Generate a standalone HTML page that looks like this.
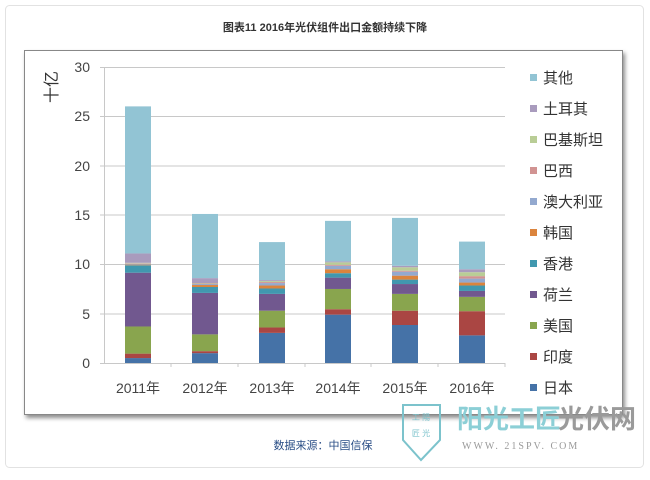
<!DOCTYPE html>
<html><head><meta charset="utf-8"><style>
body{margin:0;width:650px;height:475px;background:#fff;overflow:hidden;font-family:"Liberation Sans","Noto Sans CJK SC",sans-serif}
</style></head><body>
<svg width="650" height="475" xmlns="http://www.w3.org/2000/svg" font-family="Liberation Sans, Noto Sans CJK SC, sans-serif">
<defs><filter id="sh" x="-5%" y="-5%" width="110%" height="115%"><feDropShadow dx="2" dy="3" stdDeviation="2" flood-color="#000" flood-opacity="0.45"/></filter></defs>
<rect x="5.5" y="5.5" width="638" height="462" rx="4" fill="#fff" stroke="#e2e2e2"/>
<text x="325" y="31" text-anchor="middle" font-size="11" font-weight="bold" fill="#333">图表11  2016年光伏组件出口金额持续下降</text>
<rect x="24.5" y="50.5" width="598" height="364" fill="#fff" stroke="#888" filter="url(#sh)"/>
<g stroke="#c8c8c8" stroke-width="1">
<line x1="104" y1="67.5" x2="505" y2="67.5"/><line x1="104" y1="116.5" x2="505" y2="116.5"/>
<line x1="104" y1="166" x2="505" y2="166"/><line x1="104" y1="215" x2="505" y2="215"/>
<line x1="104" y1="264.5" x2="505" y2="264.5"/><line x1="104" y1="314" x2="505" y2="314"/>
<line x1="104.5" y1="67" x2="104.5" y2="363"/><line x1="100" y1="363.5" x2="505" y2="363.5"/>
<line x1="100" y1="67.5" x2="104" y2="67.5"/><line x1="100" y1="116.5" x2="104" y2="116.5"/><line x1="100" y1="166" x2="104" y2="166"/><line x1="100" y1="215" x2="104" y2="215"/><line x1="100" y1="264.5" x2="104" y2="264.5"/><line x1="100" y1="314" x2="104" y2="314"/>
<line x1="171" y1="363" x2="171" y2="367"/><line x1="238" y1="363" x2="238" y2="367"/><line x1="305" y1="363" x2="305" y2="367"/><line x1="371" y1="363" x2="371" y2="367"/><line x1="438" y1="363" x2="438" y2="367"/><line x1="505" y1="363" x2="505" y2="367"/>
</g>
<g font-size="14" fill="#444" text-anchor="end">
<text x="90" y="72">30</text><text x="90" y="121">25</text><text x="90" y="171">20</text><text x="90" y="220">15</text><text x="90" y="269">10</text><text x="90" y="319">5</text><text x="90" y="368">0</text>
</g>
<text transform="translate(57,87) rotate(-90)" text-anchor="middle" font-size="16" fill="#333">十亿</text>
<g font-size="14" fill="#444" text-anchor="middle">
<text x="138" y="393">2011年</text><text x="205" y="393">2012年</text><text x="272" y="393">2013年</text><text x="338" y="393">2014年</text><text x="405" y="393">2015年</text><text x="472" y="393">2016年</text>
</g>
<g id="bars"></g>
<g font-size="15" fill="#333">
<rect x="530" y="74" width="7" height="7" fill="#92c4d4"/><text x="543" y="83">其他</text>
<rect x="530" y="105" width="7" height="7" fill="#a99bbd"/><text x="543" y="114">土耳其</text>
<rect x="530" y="136" width="7" height="7" fill="#b9cd96"/><text x="543" y="145">巴基斯坦</text>
<rect x="530" y="167" width="7" height="7" fill="#d19392"/><text x="543" y="176">巴西</text>
<rect x="530" y="198" width="7" height="7" fill="#93a9cf"/><text x="543" y="207">澳大利亚</text>
<rect x="530" y="229" width="7" height="7" fill="#db843d"/><text x="543" y="238">韩国</text>
<rect x="530" y="260" width="7" height="7" fill="#4198af"/><text x="543" y="269">香港</text>
<rect x="530" y="291" width="7" height="7" fill="#71588f"/><text x="543" y="300">荷兰</text>
<rect x="530" y="322" width="7" height="7" fill="#89a54e"/><text x="543" y="331">美国</text>
<rect x="530" y="353" width="7" height="7" fill="#aa4643"/><text x="543" y="362">印度</text>
<rect x="530" y="384" width="7" height="7" fill="#4572a7"/><text x="543" y="393">日本</text>
</g>
<text x="323" y="449" text-anchor="middle" font-size="11" fill="#2a4e86">数据来源：中国信保</text>
<path d="M403 405 L440 405 L440 440 L421 460 L403 440 Z" fill="none" stroke="#7cc3cc" stroke-width="2"/>
<text x="421" y="420" text-anchor="middle" font-size="8" fill="#7cc3cc">工 陽</text>
<text x="421" y="436" text-anchor="middle" font-size="8" fill="#7cc3cc">匠 光</text>
<text x="457" y="428" font-size="26" font-weight="bold" fill="#8ccfd6">阳光工匠</text>
<text x="558" y="428" font-size="26" font-weight="bold" fill="#9a9a9a">光伏网</text>
<text x="462" y="449" font-size="10" fill="#999" font-family="Liberation Serif, serif" letter-spacing="2">WWW. 21SPV. COM</text>
</svg>
<script>
const cols=["#4572a7","#aa4643","#89a54e","#71588f","#4198af","#db843d","#93a9cf","#d19392","#b9cd96","#a99bbd","#92c4d4"];
const tops=[[0.5,0.95,3.7,9.15,9.9,9.97,10.05,10.1,10.15,11.1,26],
[1.0,1.2,2.9,7.1,7.7,7.9,8.0,8.05,8.1,8.6,15.1],
[3.05,3.6,5.3,7.0,7.55,7.85,8.1,8.2,8.3,8.4,12.25],
[4.9,5.45,7.5,8.65,9.1,9.5,9.85,9.95,10.2,10.3,14.4],
[3.85,5.3,7.0,8.0,8.45,8.85,9.25,9.35,9.7,9.85,14.7],
[2.8,5.25,6.7,7.3,7.85,8.15,8.55,8.8,9.2,9.5,12.3]];
const cx=[138,205,272,338,405,472];const g=document.getElementById("bars");
const Y=v=>363-v*9.87;
tops.forEach((t,i)=>{let prev=0;t.forEach((v,j)=>{const r=document.createElementNS("http://www.w3.org/2000/svg","rect");
r.setAttribute("x",cx[i]-13);r.setAttribute("width",26);r.setAttribute("y",Y(v));r.setAttribute("height",Y(prev)-Y(v));r.setAttribute("fill",cols[j]);g.appendChild(r);prev=v;});});
</script>
</body></html>
